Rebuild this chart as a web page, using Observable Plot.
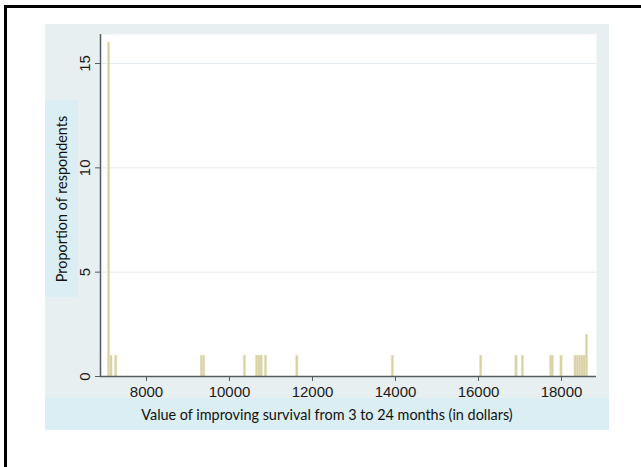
<!DOCTYPE html>
<html><head><meta charset="utf-8">
<script src="https://cdn.jsdelivr.net/npm/d3@7"></script>
<script src="https://cdn.jsdelivr.net/npm/@observablehq/plot@0.6"></script>
<style>
body{margin:0;background:#fff;}
#wrap{position:relative;width:641px;height:467px;overflow:hidden;font-family:Lato,sans-serif;color:#111;}
#border{position:absolute;left:4px;top:5px;width:700px;height:600px;border-left:3px solid #000;border-top:3px solid #000;}
#panel{position:absolute;left:45px;top:24px;width:564px;height:406px;background:#e8eff1;}
#xband{position:absolute;left:45px;top:398px;width:564px;height:32px;background:#dbeef4;}
#yband{position:absolute;left:45px;top:100px;width:33px;height:197px;background:#dbeef4;}
#xtitle{position:absolute;left:45px;width:564px;top:405px;text-align:center;font-size:14.4px;line-height:20px;white-space:nowrap;}
#ytitle{position:absolute;left:-38px;top:189px;width:200px;height:20px;line-height:20px;text-align:center;font-size:14.4px;transform:rotate(-90deg);transform-origin:50% 50%;white-space:nowrap;}
#chart{position:absolute;left:0;top:0;}
</style></head>
<body>
<div id="wrap">
  <div id="border"></div>
  <div id="panel"></div>
  <div id="xband"></div>
  <div id="yband"></div>
  <div id="chart"></div>
  <div id="xtitle">Value of improving survival from 3 to 24 months (in dollars)</div>
  <div id="ytitle">Proportion of respondents</div>
</div>
<script>
// Data
const values = [7100, 7155, 7270, 9335, 9390, 10370, 10665, 10720, 10775, 10880, 11635, 13935,
                16065, 16915, 17070, 17750, 17785, 18000, 18339, 18394, 18449, 18504, 18559, 18614];
const counts = [16, 1, 1, 1, 1, 1, 1, 1, 1, 1, 1, 1,
                1, 1, 1, 1, 1, 1, 1, 1, 1, 1, 1, 2];
const binWidth = 55;
const xTicks = [8000, 10000, 12000, 14000, 16000, 18000];
const yTicks = [0, 5, 10, 15];
const xDomain = [6892, 18843];
const yDomain = [0, 16.39];

const data = values.map((v, i) => ({x1: v - binWidth / 2, x2: v + binWidth / 2, y: counts[i]}));

const chart = Plot.plot({
  width: 641,
  height: 467,
  marginLeft: 100,
  marginRight: 45,
  marginTop: 34,
  marginBottom: 91,
  style: {background: "transparent", fontFamily: "'Liberation Sans', Arial, sans-serif", fontSize: "15px", color: "#1a1a1a"},
  x: {domain: xDomain},
  y: {domain: yDomain},
  marks: [
    Plot.frame({fill: "white", stroke: null}),
    Plot.gridY(yTicks.slice(1), {stroke: "#e3ecee", strokeOpacity: 1, strokeWidth: 1}),
    Plot.rectY(data, {x1: "x1", x2: "x2", y: "y", fill: "#d8d1a2", stroke: "#e6e1c3", strokeWidth: 0.5}),
    Plot.ruleY([0], {stroke: "#525d60", strokeWidth: 1.5}),
    Plot.ruleX([xDomain[0]], {stroke: "#525d60", strokeWidth: 1.5}),
    Plot.axisX({ticks: xTicks, tickSize: 5, tickPadding: 5, fontSize: 15, tickFormat: d => String(d), label: null, stroke: "#525d60"}),
    Plot.axisY({ticks: yTicks, tickSize: 5, tickPadding: 6, fontSize: 15, tickRotate: -90, tickFormat: d => String(d), label: null, stroke: "#525d60"})
  ]
});
document.getElementById("chart").appendChild(chart);
</script>
</body></html>
